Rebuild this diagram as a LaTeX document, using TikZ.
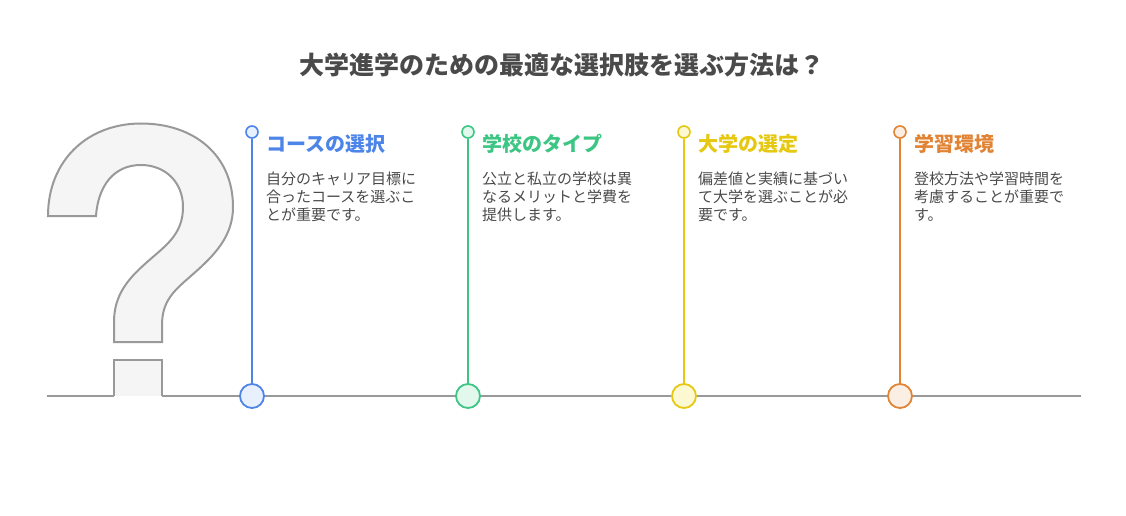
\documentclass[tikz,border=0pt]{standalone}
\usepackage{fontspec}
\setmainfont{Noto Sans CJK JP}
\definecolor{cblue}{HTML}{4C84E8}
\definecolor{cgreen}{HTML}{3CC583}
\definecolor{cyellow}{HTML}{E5C80F}
\definecolor{corange}{HTML}{E18335}
\definecolor{fblue}{HTML}{E8F0FE}
\definecolor{fgreen}{HTML}{E2F8ED}
\definecolor{fyellow}{HTML}{FCF8D2}
\definecolor{forange}{HTML}{FBEFE4}
\definecolor{ink}{HTML}{4A4A4A}
\definecolor{qline}{HTML}{999999}
\definecolor{qfill}{HTML}{F5F5F5}
\tikzset{
 x=1pt,y=-1pt,
 vline/.style={line width=2pt},
 topdot/.style={circle,draw,line width=1.6pt,minimum size=12pt,inner sep=0pt},
 botdot/.style={circle,draw,line width=1.8pt,minimum size=24pt,inner sep=0pt},
 headtxt/.style={anchor=west,inner sep=0pt,font=\fontsize{20}{24}\selectfont\bfseries},
 bodytxt/.style={anchor=west,inner sep=0pt,align=left,text=ink,font=\fontsize{15}{18}\selectfont},
 qshape/.style={draw=qline,fill=qfill,line width=2pt},
}
\begin{document}
\begin{tikzpicture}
\useasboundingbox (0,0) rectangle (1126,516);
\node[anchor=center,inner sep=0pt,text=ink,font=\fontsize{25}{30}\selectfont\bfseries] (title) at (561.5,65.5) {大学進学のための最適な選択肢を選ぶ方法は？};
% question mark
\draw[qshape,line join=miter] (48,216) .. controls (48,160) and (88,123.5) .. (141,123.5)
 .. controls (194,123.5) and (233,155) .. (233,207)
 .. controls (233,236) and (215,255) .. (192,275)
 .. controls (175,290) and (162,300) .. (162,325)
 -- (162,342) -- (114,342) -- (114,322)
 .. controls (114,295) and (128,279) .. (146,263)
 .. controls (165,246) and (183,235) .. (183,207)
 .. controls (183,182) and (165,165) .. (141,165)
 .. controls (113,165) and (98,187) .. (96,216) -- cycle;
\fill[qfill] (114,360) rectangle (162,396);
\draw[draw=qline,line width=2pt] (114,396) -- (114,360) -- (162,360) -- (162,396);
\coordinate (bl) at (47,396);
\coordinate (bm1) at (114,396);
\coordinate (bm2) at (162,396);
\coordinate (br) at (1081,396);
\draw[draw=qline,line width=2pt] (bl) -- (bm1) (bm2) -- (br);
% columns
\foreach \n/\x/\c/\f in {a/252/cblue/fblue,b/468/cgreen/fgreen,c/684/cyellow/fyellow,d/900/corange/forange}{
 \node[topdot,draw=\c,fill=\f] (t\n) at (\x,132) {};
 \node[botdot,draw=\c,fill=\f] (b\n) at (\x,396) {};
 \draw[vline,draw=\c] (t\n) -- (b\n);
}
\node[headtxt,text=cblue] (h1) at (266,144) {コースの選択};
\node[headtxt,text=cgreen] (h2) at (482,144) {学校のタイプ};
\node[headtxt,text=cyellow] (h3) at (698,144) {大学の選定};
\node[headtxt,text=corange] (h4) at (914,144) {学習環境};
\node[bodytxt] (p1) at (266,197) {自分のキャリア目標に\\合ったコースを選ぶこ\\とが重要です。};
\node[bodytxt] (p2) at (482,197) {公立と私立の学校は異\\なるメリットと学費を\\提供します。};
\node[bodytxt] (p3) at (698,197) {偏差値と実績に基づい\\て大学を選ぶことが必\\要です。};
\node[bodytxt] (p4) at (914,197) {登校方法や学習時間を\\考慮することが重要で\\す。};
\end{tikzpicture}
\end{document}
